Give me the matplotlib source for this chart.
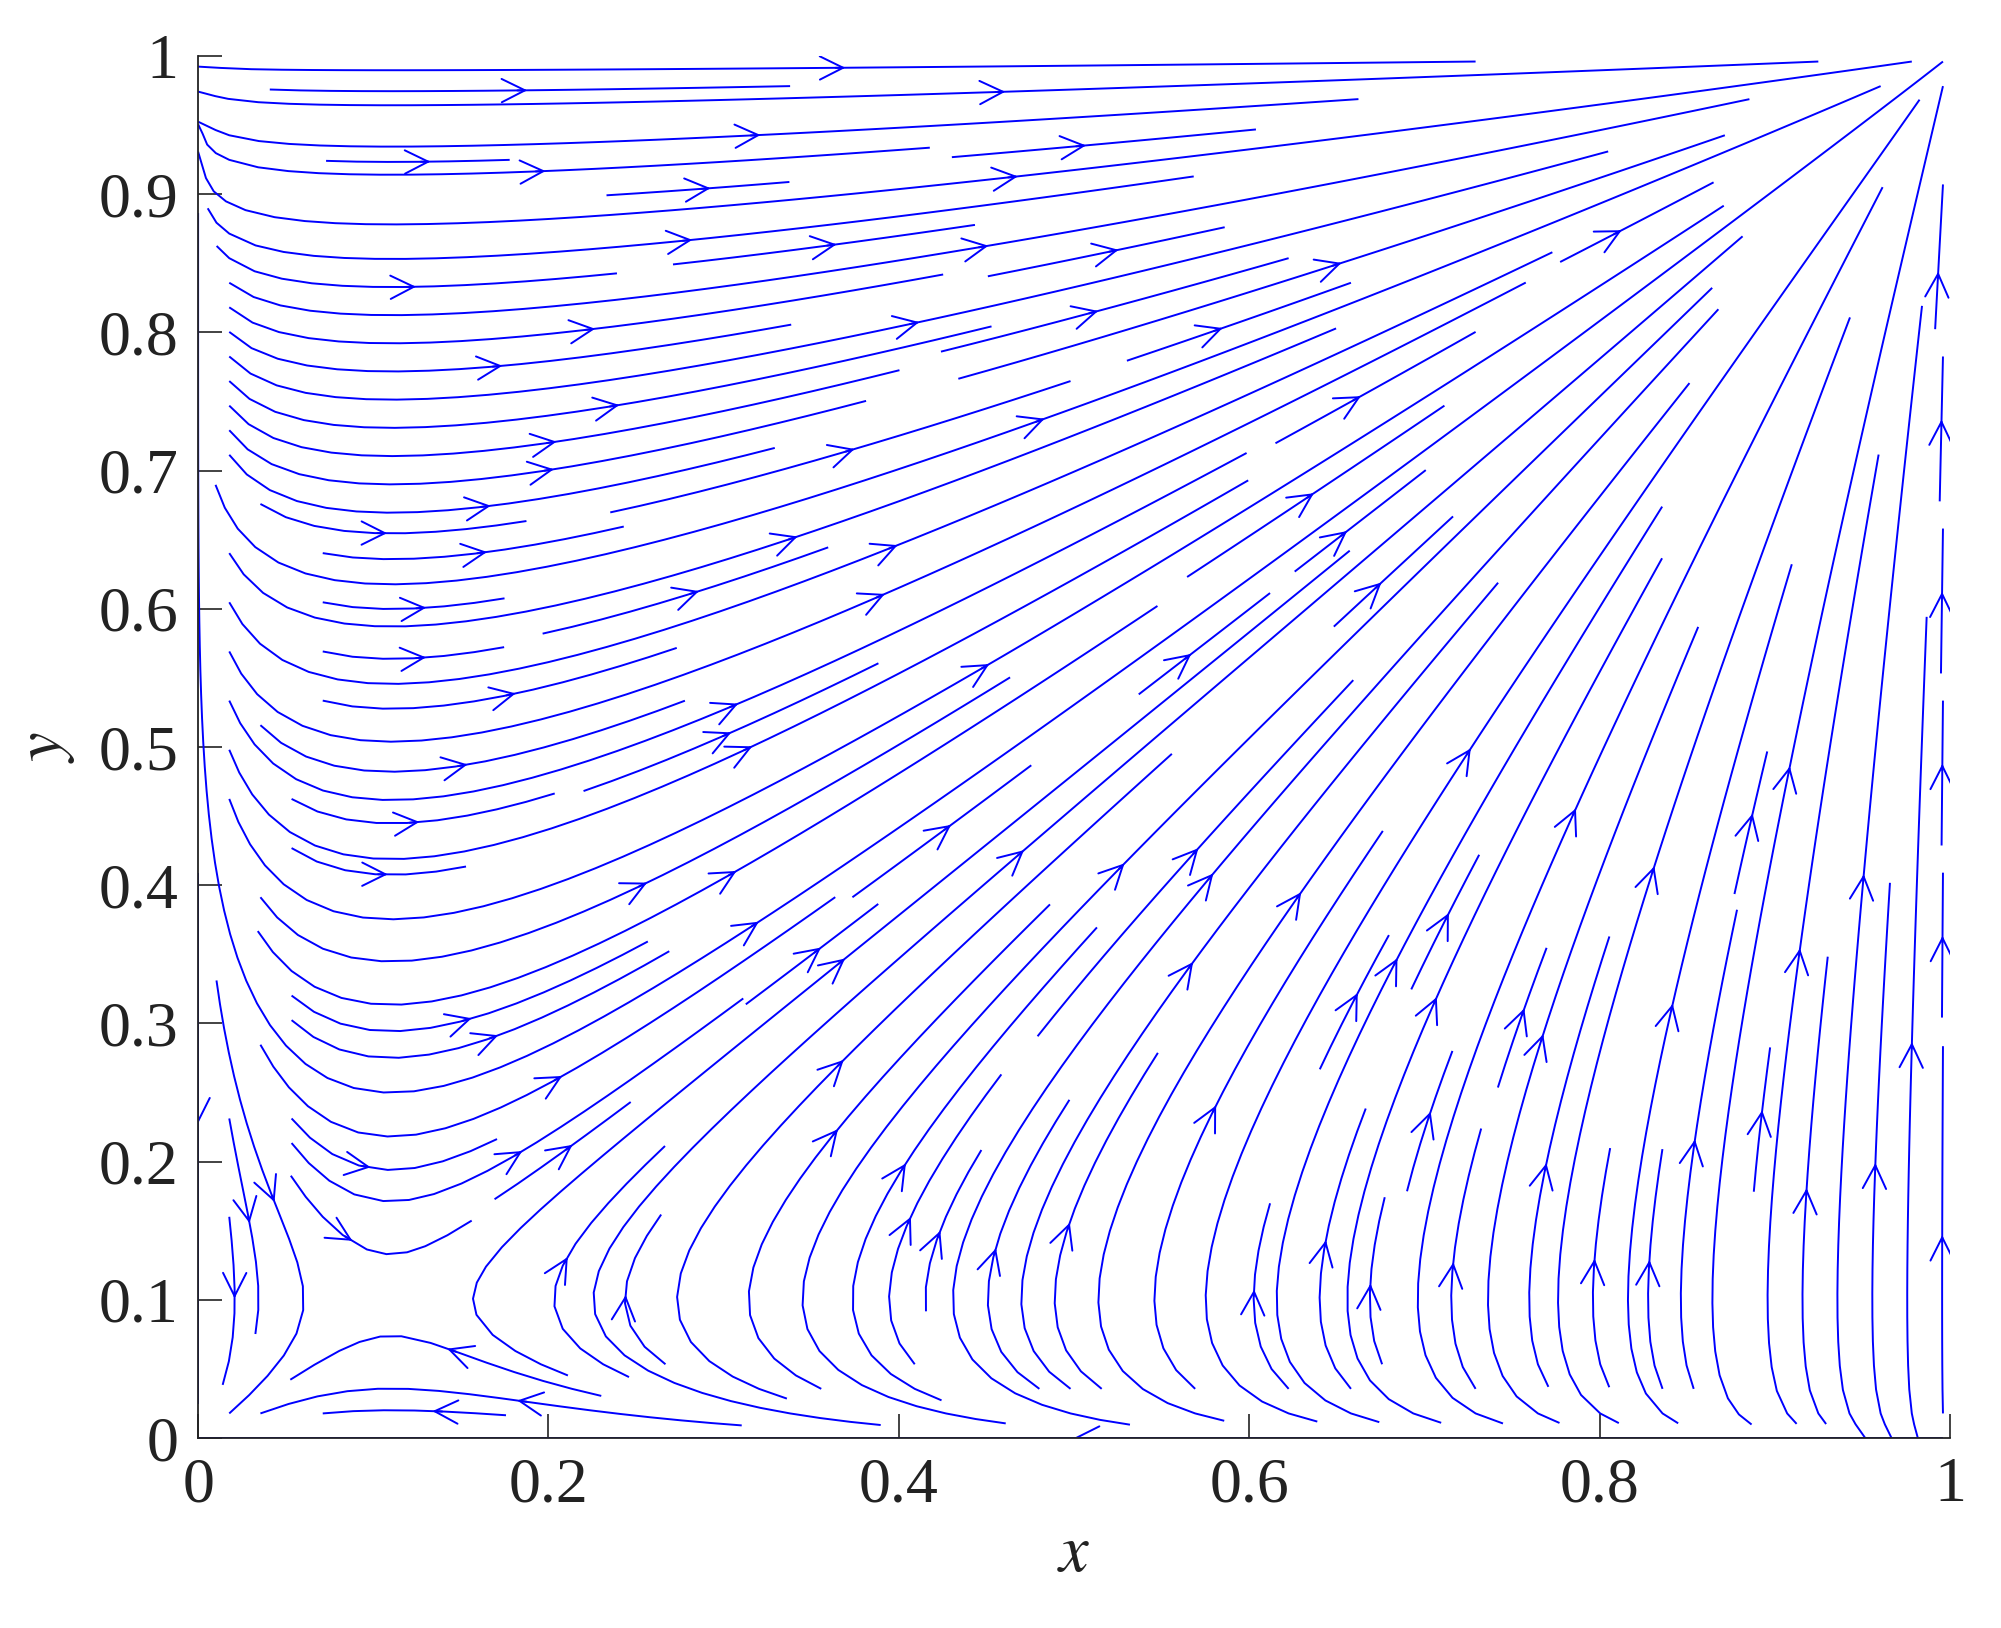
import numpy as np
import matplotlib
matplotlib.use("Agg")
import matplotlib.pyplot as plt

# Replicator-type dynamics: dx = x(1-x)(y - y_s), dy = y(1-y)(x - x_s)
x_saddle = 0.11
y_saddle = 0.10
x_ticks = [0, 0.2, 0.4, 0.6, 0.8, 1]
y_ticks = [0, 0.1, 0.2, 0.3, 0.4, 0.5, 0.6, 0.7, 0.8, 0.9, 1]
x_ticklabels = ["0", "0.2", "0.4", "0.6", "0.8", "1"]
y_ticklabels = ["0", "0.1", "0.2", "0.3", "0.4", "0.5", "0.6", "0.7", "0.8", "0.9", "1"]

gx = np.linspace(0, 0.996, 300)
gy = np.linspace(0, 0.996, 300)
X, Y = np.meshgrid(gx, gy)
U = X * (1 - X) * (Y - y_saddle)
V = Y * (1 - Y) * (X - x_saddle)

plt.rcParams['font.family'] = ['Liberation Serif']
plt.rcParams['mathtext.fontset'] = 'stix'

fig = plt.figure(figsize=(20.01, 16.28), dpi=100)
ax = fig.add_axes([0.099, 0.1167, 0.8755, 0.8489])
kw = dict(density=1.9, color=(0, 0, 1), linewidth=1.4,
          arrowstyle='->', arrowsize=4.2, broken_streamlines=True)
try:
    ax.streamplot(X, Y, U, V, integration_max_step_scale=0.2, **kw)
except TypeError:
    ax.streamplot(X, Y, U, V, **kw)
ax.set_xlim(0, 1)
ax.set_ylim(0, 1)
ax.set_xticks(x_ticks)
ax.set_xticklabels(x_ticklabels)
ax.set_yticks(y_ticks)
ax.set_yticklabels(y_ticklabels)
ax.tick_params(direction='in', length=17, width=1.2, labelsize=46, pad=14, colors='#222222')
for s in ['top', 'right']:
    ax.spines[s].set_visible(False)
for s in ['left', 'bottom']:
    ax.spines[s].set_linewidth(1.3)
    ax.spines[s].set_color('#222222')
ax.set_xlabel('$x$', fontsize=48, labelpad=6, color='#222222')
ax.set_ylabel('$y$', fontsize=48, labelpad=16, color='#222222')
fig.savefig('out.png', dpi=100)
